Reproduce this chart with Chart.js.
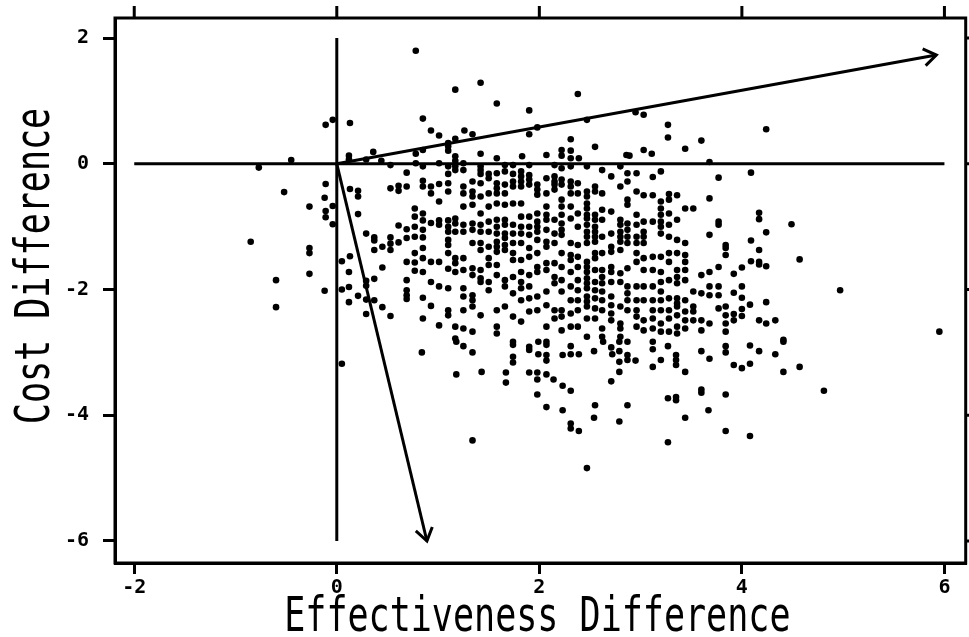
<!DOCTYPE html>
<html>
<head>
<meta charset="utf-8">
<script src="https://cdn.jsdelivr.net/npm/chart.js@4.4.1/dist/chart.umd.min.js"></script>
<style>
  html, body { margin: 0; padding: 0; background: #fff; }
  #wrap { width: 969px; height: 637px; }
</style>
</head>
<body>
<div id="wrap"><canvas id="ce-plane" width="969" height="637"></canvas></div>
<script>
// axis ticks and titles
const xTicks = [-2, 0, 2, 4, 6];
const yTicks = [-6, -4, -2, 0, 2];
const xTitle = 'Effectiveness Difference';
const yTitle = 'Cost Difference';

// reference lines through the origin and the two arrows
const zeroLineEff = [-2, 6];
const zeroLineCost = [2, -6];
const arrowOrigin = [0, 0];
const arrowTips = [[5.92, 1.73], [0.89, -6.0]];

// dense core of the cloud, one column per effectiveness value
const coreEff = [0.93, 1.01, 1.10, 1.17, 1.25, 1.34, 1.42, 1.50, 1.58, 1.66, 1.74, 1.82, 1.90, 1.98, 2.07, 2.15, 2.22, 2.31, 2.38,
  2.47, 2.55, 2.62, 2.71, 2.80, 2.87, 2.96, 3.03, 3.12, 3.20, 3.28, 3.36, 3.44, 3.52, 3.60, 3.68, 3.77, 3.84];
const coreCost = [
  [-0.36, -0.47, -0.94, -1.56, -1.88, -2.26],
  [0.01, -0.32, -0.60, -0.90, -0.97, -1.56, -1.95, -2.57],
  [-0.04, -0.16, -0.31, -0.44, -0.90, -1.00, -1.08, -1.21, -1.29, -1.42, -1.67, -1.98, -2.33, -2.41],
  [0.12, 0.05, -0.04, -0.10, -0.87, -0.95, -1.08, -1.50, -1.58, -1.72, -2.59, -2.78],
  [0.01, -0.10, -0.36, -0.47, -0.68, -0.97, -1.08, -1.50, -1.69, -1.98, -2.11, -2.33, -2.62],
  [-0.28, -0.44, -0.52, -0.65, -0.95, -1.05, -1.26, -1.66, -1.77, -2.09, -2.17, -2.27, -2.67],
  [-0.04, -0.10, -0.16, -0.31, -0.52, -0.79, -0.97, -1.08, -1.26, -1.37, -1.69, -1.82, -1.88, -2.41],
  [-0.16, -0.23, -0.47, -0.68, -0.92, -1.08, -1.32, -1.50, -1.61, -1.88, -2.01],
  [-0.15, -0.31, -0.39, -0.47, -0.63, -0.89, -1.00, -1.11, -1.24, -1.32, -1.40, -1.61, -1.77, -2.33, -2.59, -2.70],
  [-0.02, -0.12, -0.33, -0.47, -0.65, -0.89, -0.97, -1.11, -1.18, -1.29, -1.37, -1.85, -1.95, -2.27],
  [-0.02, -0.16, -0.28, -0.36, -0.63, -0.97, -1.11, -1.26, -1.42, -1.53, -1.80, -2.06, -2.43],
  [-0.12, -0.20, -0.28, -0.36, -0.63, -0.84, -1.00, -1.11, -1.26, -1.53, -1.72, -1.88, -1.98, -2.17, -2.51],
  [-0.02, -0.18, -0.25, -0.33, -0.84, -1.00, -1.13, -1.34, -1.48, -1.77, -1.95, -2.14, -2.35],
  [-0.33, -0.41, -0.49, -0.79, -0.92, -1.00, -1.08, -1.21, -1.42, -1.64, -1.72, -2.11, -2.33],
  [-0.23, -0.47, -0.68, -0.81, -0.89, -1.05, -1.24, -1.32, -1.58, -1.69, -2.03, -2.25, -2.59],
  [-0.02, -0.20, -0.28, -0.33, -0.41, -0.89, -1.11, -1.26, -1.58, -1.80, -1.90, -2.33, -2.46],
  [-0.07, -0.25, -0.33, -0.57, -0.68, -0.81, -0.95, -1.05, -1.13, -1.42, -1.64, -1.85, -2.03, -2.33, -2.43, -2.65],
  [-0.04, -0.28, -0.36, -0.47, -0.68, -0.87, -1.26, -1.45, -1.53, -1.72, -1.95, -2.17, -2.38, -2.59],
  [-0.31, -0.47, -0.79, -1.00, -1.29, -1.48, -1.64, -1.85, -2.01, -2.17, -2.33, -2.59],
  [-0.04, -0.44, -0.52, -0.63, -0.71, -0.81, -0.87, -0.97, -1.08, -1.16, -1.26, -1.56, -1.64, -1.72, -1.82, -1.90, -1.98, -2.11, -2.19, -2.27, -2.46, -2.75],
  [-0.36, -0.44, -0.81, -0.89, -1.00, -1.08, -1.16, -1.24, -1.42, -1.50, -1.69, -1.88, -2.01, -2.14, -2.30, -2.46],
  [-0.10, -0.47, -0.73, -0.89, -1.16, -1.42, -1.69, -1.80, -1.90, -2.03, -2.17, -2.33, -2.62, -2.75],
  [-0.20, -0.76, -1.11, -1.32, -1.40, -1.64, -1.72, -1.88, -2.11, -2.25, -2.38, -2.49],
  [-0.04, -0.36, -0.89, -0.97, -1.08, -1.16, -1.24, -1.37, -1.74, -1.88, -2.27, -2.54, -2.62, -2.75],
  [-0.15, -0.28, -0.57, -0.65, -0.95, -1.05, -1.16, -1.26, -1.66, -1.95, -2.06, -2.17, -2.33],
  [-0.15, -0.44, -0.81, -0.97, -1.16, -1.26, -1.42, -1.56, -1.95, -2.17, -2.33, -2.43, -2.59],
  [-0.50, -0.92, -1.08, -1.16, -1.26, -1.50, -1.69, -1.95, -2.17, -2.49, -2.65],
  [-0.21, -0.50, -0.92, -1.48, -1.69, -1.95, -2.17, -2.33, -2.46, -2.62],
  [-0.12, -0.60, -0.71, -0.81, -0.92, -1.00, -1.11, -1.48, -1.72, -1.88, -2.03, -2.17, -2.33, -2.54, -2.67],
  [-0.48, -0.57, -0.79, -0.97, -1.16, -1.42, -1.56, -1.85, -2.14, -2.33, -2.46, -2.67],
  [-0.50, -0.89, -1.21, -1.42, -1.69, -1.80, -1.90, -2.14, -2.22, -2.27, -2.41, -2.59, -2.70],
  [-0.71, -1.26, -1.45, -1.56, -1.69, -1.85, -2.17, -2.35, -2.49, -2.62],
  [-0.71, -2.03, -2.27, -2.35, -2.49],
  [-1.77, -2.06, -2.49, -2.65],
  [-0.55, -1.13, -1.72, -1.95, -2.09, -2.54],
  [-0.22, -0.92, -0.97, -1.64, -1.95, -2.09, -2.30],
  [-1.29, -1.34, -1.45, -2.27, -2.41, -2.54, -2.67]
];

// scattered points around the core, as [effectiveness, cost]
const upperPoints = [[0.78, 1.80], [-0.11, 0.62], [-0.04, 0.70], [0.13, 0.65], [0.85, 0.72], [-0.45, 0.06], [-0.77, -0.06],
  [0.12, 0.13], [0.12, 0.07], [0.29, 0.07], [0.36, 0.19], [0.44, 0.05], [0.53, -0.02], [0.69, -0.14], [0.78, 0.16], [0.78, 0.01],
  [0.85, 0.22], [0.85, -0.04], [1.17, 1.18], [1.42, 1.29], [1.58, 0.96], [1.90, 0.85], [2.38, 1.11], [0.93, 0.53], [1.01, 0.45],
  [1.26, 0.53], [1.34, 0.47], [1.17, 0.40], [1.10, 0.33], [1.10, 0.28], [1.10, 0.21], [1.90, 0.47], [1.98, 0.58], [2.31, 0.39],
  [2.55, 0.27], [2.47, 0.70], [1.42, 0.16], [1.58, 0.09], [1.83, 0.12], [2.07, 0.14], [2.22, 0.22], [2.22, 0.13], [2.31, 0.21],
  [2.31, 0.09], [2.39, 0.09], [2.86, 0.14], [2.95, 0.82], [3.03, 0.78], [3.27, 0.62], [3.27, 0.42], [3.60, 0.37], [3.44, 0.24],
  [3.03, 0.22], [3.11, 0.16], [2.89, 0.13], [3.68, 0.03], [4.24, 0.55], [4.09, -0.14]];
const leftPoints = [[-0.11, -0.32], [-0.52, -0.45], [-0.12, -0.54], [0.13, -0.40], [0.21, -0.43], [0.21, -0.52], [0.53, -0.39],
  [0.61, -0.35], [0.61, -0.43], [0.69, -0.36], [0.85, -0.36], [0.85, -0.27], [-0.27, -0.68], [-0.11, -0.75], [-0.11, -0.85],
  [-0.04, -0.67], [-0.04, -0.96], [0.21, -0.80], [-0.85, -1.24], [-0.27, -1.34], [-0.27, -1.42], [-0.27, -1.75], [-0.60, -1.85],
  [-0.60, -2.28], [-0.12, -2.02], [0.05, -1.55], [0.05, -2.00], [0.13, -1.47], [0.12, -1.72], [0.12, -1.96], [0.12, -2.20],
  [0.21, -2.10], [0.29, -1.11], [0.37, -1.17], [0.37, -1.22], [0.37, -1.37], [0.45, -1.32], [0.53, -1.17], [0.53, -1.27],
  [0.53, -1.37], [0.61, -0.98], [0.61, -1.25], [0.69, -1.04], [0.69, -1.18], [0.77, -0.71], [0.77, -0.84], [0.77, -1.00],
  [0.77, -1.16], [0.85, -0.79], [0.85, -0.90], [0.85, -1.05], [0.85, -1.17], [0.85, -1.34], [0.85, -1.50], [0.29, -1.86],
  [0.29, -1.94], [0.37, -1.83], [0.45, -1.65], [0.29, -2.16], [0.37, -2.17], [0.45, -2.28], [0.29, -2.39], [0.53, -2.42],
  [0.69, -1.56], [0.77, -1.42], [0.77, -1.57], [0.77, -1.70], [0.85, -1.72], [0.69, -1.85], [0.69, -2.01], [0.69, -2.09],
  [0.69, -2.15], [0.85, -2.13], [0.85, -2.46], [0.05, -3.18], [0.84, -3.00]];
const lowerPoints = [[1.18, -2.83], [1.25, -2.90], [1.34, -3.00], [1.18, -3.35], [1.34, -4.40], [1.43, -3.31], [1.74, -2.83],
  [1.74, -2.88], [1.90, -2.91], [1.90, -2.96], [1.99, -2.83], [1.99, -3.03], [2.07, -2.83], [2.07, -2.88], [2.07, -3.04],
  [2.07, -3.13], [1.74, -3.07], [1.74, -3.16], [1.67, -3.32], [1.67, -3.48], [1.90, -3.32], [1.98, -3.32], [2.07, -3.35],
  [1.98, -3.43], [2.14, -3.43], [2.23, -3.53], [2.31, -3.61], [1.98, -3.67], [2.07, -3.87], [2.23, -3.92], [2.31, -4.13],
  [2.31, -4.21], [2.39, -4.25], [2.47, -4.84], [2.23, -3.04], [2.31, -2.90], [2.31, -3.03], [2.39, -3.03], [2.54, -2.98],
  [2.55, -3.84], [2.54, -4.04], [2.63, -2.83], [2.71, -2.92], [2.72, -3.03], [2.79, -2.83], [2.79, -2.98], [2.79, -3.15],
  [2.79, -3.31], [2.71, -3.46], [2.79, -4.10], [2.87, -2.83], [2.87, -3.04], [2.87, -3.12], [2.95, -3.13], [2.87, -3.84],
  [3.12, -2.83], [3.12, -2.95], [3.12, -3.23], [3.20, -3.12], [3.27, -2.90], [3.35, -3.04], [3.35, -3.12], [3.35, -3.20],
  [3.44, -3.31], [3.27, -3.73], [3.35, -3.71], [3.35, -3.76], [3.27, -4.43], [3.44, -4.04], [3.60, -2.98], [3.68, -3.10],
  [3.60, -3.59], [3.60, -3.64], [3.67, -3.92], [3.84, -2.90], [3.84, -3.00], [3.84, -3.67], [3.84, -4.25], [4.08, -2.89],
  [4.17, -2.98], [4.33, -3.03], [4.41, -2.83], [3.92, -3.20], [4.00, -3.25], [4.08, -3.18], [4.41, -3.31], [4.57, -3.23],
  [4.81, -3.61], [4.08, -4.33]];
const rightPoints = [[4.17, -0.78], [4.17, -0.88], [4.49, -0.96], [4.24, -1.09], [4.09, -1.22], [4.17, -1.37], [4.09, -1.55],
  [4.17, -1.56], [4.17, -1.60], [4.24, -1.63], [4.57, -1.52], [4.97, -2.01], [4.00, -1.95], [4.00, -2.13], [4.08, -2.24],
  [4.24, -2.20], [4.00, -2.31], [3.92, -2.39], [4.00, -2.42], [3.92, -2.49], [4.17, -2.49], [4.24, -2.54], [4.33, -2.49],
  [4.41, -2.80], [5.95, -2.67], [3.92, -1.75], [3.92, -2.05], [4.00, -1.65]];

const cloud = [];
coreEff.forEach((e, i) => coreCost[i].forEach(c => cloud.push({ x: e, y: c })));
[upperPoints, leftPoints, lowerPoints, rightPoints].forEach(list => list.forEach(([e, c]) => cloud.push({ x: e, y: c })));

const frameTicks = {
  id: 'frameTicks',
  afterDraw(chart) {
    const { ctx, chartArea: a, scales: { x, y } } = chart;
    ctx.save();
    ctx.strokeStyle = '#000';
    ctx.lineWidth = 3;
    ctx.strokeRect(a.left, a.top, a.right - a.left, a.bottom - a.top);
    ctx.beginPath();
    xTicks.forEach(v => {
      const px = x.getPixelForValue(v);
      ctx.moveTo(px, a.top);
      ctx.lineTo(px, a.top - 12);
    });
    yTicks.forEach(v => {
      const py = y.getPixelForValue(v);
      ctx.moveTo(a.right, py);
      ctx.lineTo(a.right + 12, py);
    });
    ctx.stroke();
    ctx.restore();
  }
};

const arrowHeads = {
  id: 'arrowHeads',
  afterDatasetsDraw(chart) {
    const { ctx, scales: { x, y } } = chart;
    const x0 = x.getPixelForValue(arrowOrigin[0]);
    const y0 = y.getPixelForValue(arrowOrigin[1]);
    ctx.save();
    ctx.strokeStyle = '#000';
    ctx.lineWidth = 3;
    arrowTips.forEach(([e, c]) => {
      const x1 = x.getPixelForValue(e);
      const y1 = y.getPixelForValue(c);
      const ang = Math.atan2(y1 - y0, x1 - x0);
      const len = 15, spread = 0.6;
      ctx.beginPath();
      ctx.moveTo(x1 - len * Math.cos(ang - spread), y1 - len * Math.sin(ang - spread));
      ctx.lineTo(x1, y1);
      ctx.lineTo(x1 - len * Math.cos(ang + spread), y1 - len * Math.sin(ang + spread));
      ctx.stroke();
    });
    ctx.restore();
  }
};

// condensed stroke-like axis titles
const axisTitles = {
  id: 'axisTitles',
  afterDraw(chart) {
    const { ctx, chartArea: a } = chart;
    ctx.save();
    ctx.fillStyle = '#000';
    ctx.font = '48px "DejaVu Sans Mono"';
    ctx.textAlign = 'center';
    ctx.textBaseline = 'alphabetic';
    ctx.save();
    ctx.translate((a.left + a.right) / 2 - 3, 631);
    ctx.scale(0.73, 1);
    ctx.fillText(xTitle, 0, 0);
    ctx.restore();
    ctx.save();
    ctx.translate(49, 266);
    ctx.rotate(-Math.PI / 2);
    ctx.scale(0.73, 1);
    ctx.fillText(yTitle, 0, 0);
    ctx.restore();
    ctx.restore();
  }
};

const tickFont = { family: '"DejaVu Sans Mono"', weight: 'bold', size: 20 };

new Chart(document.getElementById('ce-plane'), {
  type: 'scatter',
  data: {
    datasets: [
      {
        type: 'line', data: zeroLineEff.map(e => ({ x: e, y: 0 })), showLine: true,
        borderColor: '#000', borderWidth: 3, pointRadius: 0, fill: false, order: 0
      },
      {
        type: 'line', data: zeroLineCost.map(c => ({ x: 0, y: c })), showLine: true,
        borderColor: '#000', borderWidth: 3, pointRadius: 0, fill: false, order: 0
      },
      ...arrowTips.map(([e, c]) => ({
        type: 'line', data: [{ x: arrowOrigin[0], y: arrowOrigin[1] }, { x: e, y: c }], showLine: true,
        borderColor: '#000', borderWidth: 3, pointRadius: 0, fill: false, order: 0
      })),
      {
        data: cloud, pointRadius: 3.3, pointBackgroundColor: '#000', pointBorderWidth: 0,
        pointHoverRadius: 3.3, order: 1
      }
    ]
  },
  options: {
    responsive: false,
    devicePixelRatio: 1,
    animation: false,
    layout: { padding: { top: 18, right: 1, left: 0, bottom: 0 } },
    plugins: { legend: { display: false }, tooltip: { enabled: false } },
    scales: {
      x: {
        type: 'linear', min: -2.19, max: 6.21,
        afterBuildTicks: s => { s.ticks = xTicks.map(v => ({ value: v })); },
        afterFit: s => { s.height = 74; s.paddingLeft = 0; s.paddingRight = 0; },
        ticks: { font: tickFont, color: '#000', padding: 2, maxRotation: 0, autoSkip: false },
        grid: { display: true, drawOnChartArea: false, drawTicks: true, tickLength: 11, lineWidth: 3, color: '#000' },
        border: { display: true, width: 3, color: '#000' }
      },
      y: {
        type: 'linear', min: -6.35, max: 2.32,
        afterBuildTicks: s => { s.ticks = yTicks.map(v => ({ value: v })); },
        afterFit: s => { s.width = 115; s.paddingTop = 0; s.paddingBottom = 0; },
        ticks: { font: tickFont, color: '#000', padding: 14, autoSkip: false },
        grid: { display: true, drawOnChartArea: false, drawTicks: true, tickLength: 12, lineWidth: 3, color: '#000' },
        border: { display: true, width: 3, color: '#000' }
      }
    }
  },
  plugins: [frameTicks, arrowHeads, axisTitles]
});
</script>
</body>
</html>
